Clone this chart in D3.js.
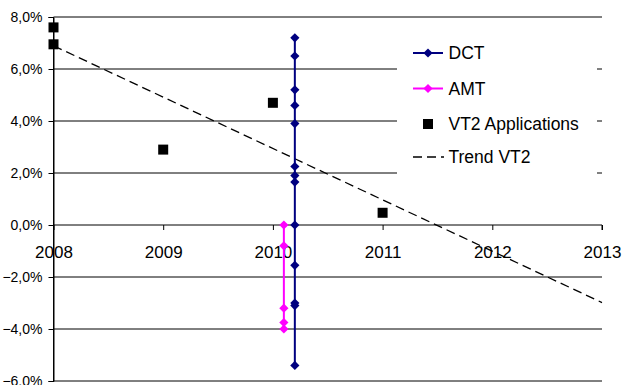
<!DOCTYPE html>
<html>
<head>
<meta charset="utf-8">
<script src="https://cdn.jsdelivr.net/npm/d3@7"></script>
<style>
  html, body { margin: 0; padding: 0; background: #fff; }
  svg { display: block; font-family: "Liberation Sans", Arial, sans-serif; }
</style>
</head>
<body>
<svg id="chart" width="623" height="385"></svg>
<script>
// Year ticks along the horizontal axis and percentage ticks on the vertical axis
const yearTicks = [2008, 2009, 2010, 2011, 2012, 2013];
const pctTicks = [-6, -4, -2, 0, 2, 4, 6, 8];

// DCT series: every point sits at the same year
const dctYear = 2010.2;
const dctValues = [7.2, 6.5, 5.2, 4.6, 3.9, 2.25, 1.9, 1.65, 0.0, -1.55, -3.0, -3.1, -5.4];

// AMT series
const amtYear = 2010.1;
const amtValues = [0.0, -0.8, -3.2, -3.75, -4.0];

// VT2 applications (scatter)
const vt2Years = [2008, 2008, 2009, 2010, 2011];
const vt2Values = [7.6, 6.95, 2.9, 4.7, 0.47];

const legendLabels = ["DCT", "AMT", "VT2 Applications", "Trend VT2"];

const svg = d3.select("#chart");
const x = d3.scaleLinear().domain([2008, 2013]).range([53.5, 602]);
const y = d3.scaleLinear().domain([-6, 8]).range([381, 17]);

const fmt = v => d3.format(".1f")(v).replace(".", ",") + "%";

// Horizontal gridlines
svg.append("g")
  .selectAll("line")
  .data(pctTicks.filter(v => v !== 0))
  .join("line")
  .attr("x1", x(2008)).attr("x2", x(2013))
  .attr("y1", d => y(d)).attr("y2", d => y(d))
  .attr("stroke", "#000").attr("stroke-width", 1);

// Y axis with ticks on the left
const yAxis = d3.axisLeft(y).tickValues(pctTicks).tickSize(5).tickPadding(6).tickFormat(fmt);
const gy = svg.append("g").attr("transform", `translate(${x(2008)},0)`).call(yAxis);
gy.select(".domain").attr("stroke", "#000");
gy.selectAll(".tick line").attr("stroke", "#000");
gy.selectAll(".tick text").attr("font-size", 14).attr("fill", "#000")
  .attr("font-family", "Liberation Sans, Arial, sans-serif");

// X axis drawn along zero with downward ticks and labels below
const xAxis = d3.axisBottom(x).tickValues(yearTicks).tickSize(5).tickPadding(16).tickFormat(d3.format("d"));
const gx = svg.append("g").attr("transform", `translate(0,${y(0)})`).call(xAxis);
gx.select(".domain").attr("stroke", "#000").attr("d", `M${x(2008)},0H${x(2013)}V5`);
gx.selectAll(".tick line").attr("stroke", "#000");
gx.selectAll(".tick text").attr("font-size", 17).attr("fill", "#000")
  .attr("font-family", "Liberation Sans, Arial, sans-serif");

// Redraw the vertical axis line over the year labels
svg.append("line")
  .attr("x1", x(2008)).attr("x2", x(2008))
  .attr("y1", y(8)).attr("y2", y(-6))
  .attr("stroke", "#000").attr("stroke-width", 1);

// Linear least-squares trend through the VT2 points
const mx = d3.mean(vt2Years), my = d3.mean(vt2Values);
const sxy = d3.sum(vt2Years, (v, i) => (v - mx) * (vt2Values[i] - my));
const sxx = d3.sum(vt2Years, v => (v - mx) * (v - mx));
const slope = sxy / sxx, icpt = my - slope * mx;
const trendYears = [2008, 2013];

svg.append("path")
  .datum(trendYears)
  .attr("d", d3.line().x(d => x(d)).y(d => y(icpt + slope * d)))
  .attr("fill", "none").attr("stroke", "#000").attr("stroke-width", 1.3)
  .attr("stroke-dasharray", "9,5");

// Square rotated by 45 degrees, as wide as it is tall
const diamond = "M0,-4.6L4.6,0L0,4.6L-4.6,0Z";
const square = d3.symbol().type(d3.symbolSquare).size(100);

function series(year, values, color) {
  const g = svg.append("g");
  g.append("path")
    .datum(values)
    .attr("d", d3.line().x(() => x(year)).y(d => y(d)))
    .attr("fill", "none").attr("stroke", color).attr("stroke-width", 2);
  g.selectAll("path.pt")
    .data(values)
    .join("path")
    .attr("class", "pt")
    .attr("d", diamond)
    .attr("transform", d => `translate(${x(year)},${y(d)})`)
    .attr("fill", color);
}

series(amtYear, amtValues, "#ff00ff");
series(dctYear, dctValues, "#000080");

svg.append("g")
  .selectAll("path")
  .data(vt2Values)
  .join("path")
  .attr("d", square)
  .attr("transform", (d, i) => `translate(${x(vt2Years[i])},${y(d)})`)
  .attr("fill", "#000");

// Legend
const lg = svg.append("g");
lg.append("rect").attr("x", 397).attr("y", 30).attr("width", 200).attr("height", 152).attr("fill", "#fff");
const rowY = [53, 88.5, 124, 157];
const sx0 = 413, sx1 = 443, sxm = 428;
legendLabels.forEach((label, i) => {
  const ry = rowY[i];
  if (i < 2) {
    const c = i === 0 ? "#000080" : "#ff00ff";
    lg.append("line").attr("x1", sx0).attr("x2", sx1).attr("y1", ry).attr("y2", ry)
      .attr("stroke", c).attr("stroke-width", 2);
    lg.append("path").attr("d", diamond).attr("transform", `translate(${sxm},${ry})`).attr("fill", c);
  } else if (i === 2) {
    lg.append("path").attr("d", square).attr("transform", `translate(${sxm},${ry})`).attr("fill", "#000");
  } else {
    lg.append("line").attr("x1", sx0).attr("x2", sx1 + 1).attr("y1", ry).attr("y2", ry)
      .attr("stroke", "#000").attr("stroke-width", 1.3).attr("stroke-dasharray", "9,5");
  }
  lg.append("text").attr("x", 448.5).attr("y", ry).attr("dy", "0.36em")
    .attr("font-size", 17.5).attr("fill", "#000").text(label);
});
</script>
</body>
</html>
